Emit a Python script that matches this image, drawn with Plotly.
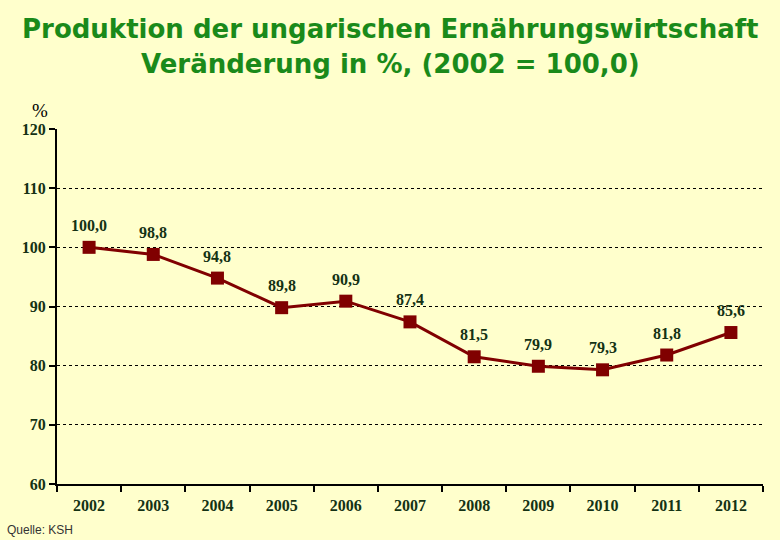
import plotly.graph_objects as go

years = ["2002", "2003", "2004", "2005", "2006", "2007", "2008", "2009", "2010", "2011", "2012"]
values = [100.0, 98.8, 94.8, 89.8, 90.9, 87.4, 81.5, 79.9, 79.3, 81.8, 85.6]
labels = ["100,0", "98,8", "94,8", "89,8", "90,9", "87,4", "81,5", "79,9", "79,3", "81,8", "85,6"]
y_ticks = [60, 70, 80, 90, 100, 110, 120]
title_lines = ["Produktion der ungarischen Ernährungswirtschaft", "Veränderung in %, (2002 = 100,0)"]

bg = "#FFFFCC"
tick_color = "#143214"
W, H = 780, 540
ML, MR, MT, MB = 57, 17, 129, 56
pw, ph = W - ML - MR, H - MT - MB

def px(x):
    return (x - ML) / pw

def py(y):
    return (H - MB - y) / ph

fig = go.Figure()
fig.add_trace(go.Scatter(
    x=years, y=values, mode="lines+markers",
    line=dict(color="#800000", width=3),
    marker=dict(symbol="square", size=13, color="#800000"),
    cliponaxis=False, showlegend=False,
))

annotations = []
for i, (v, lab) in enumerate(zip(values, labels)):
    annotations.append(dict(
        x=i, y=v, xref="x", yref="y", text=lab, showarrow=False,
        yshift=22, xanchor="center", yanchor="middle",
        font=dict(family="Liberation Serif", size=16, color=tick_color, weight="bold"),
    ))

title_y = [29, 64]
for line, ty in zip(title_lines, title_y):
    annotations.append(dict(
        text=line, x=px(390), y=py(ty), xref="paper", yref="paper", showarrow=False,
        xanchor="center", yanchor="middle",
        font=dict(family="DejaVu Sans", size=26, color="#1A8A1A", weight="bold"),
    ))

annotations.append(dict(text="%", x=px(40), y=py(110), xref="paper", yref="paper", showarrow=False,
                        xanchor="center", yanchor="middle",
                        font=dict(family="Liberation Serif", size=19, color="black")))
annotations.append(dict(text="Quelle: KSH", x=px(5), y=py(530), xref="paper", yref="paper", showarrow=False,
                        xanchor="left", yanchor="middle",
                        font=dict(family="Liberation Sans", size=12, color="#333333")))

fig.update_layout(
    width=W, height=H,
    paper_bgcolor=bg, plot_bgcolor=bg,
    margin=dict(l=ML, r=MR, t=MT, b=MB),
    xaxis=dict(
        type="category", range=[-0.5, 10.5],
        showline=True, linecolor="black", linewidth=2,
        ticks="outside", tickson="boundaries", ticklen=6, tickcolor="black", tickwidth=2,
        ticklabelstandoff=6,
        showgrid=False, zeroline=False,
        tickfont=dict(family="Liberation Serif", size=16, color=tick_color, weight="bold"),
    ),
    yaxis=dict(
        range=[60, 120], tickvals=y_ticks,
        showline=True, linecolor="black", linewidth=2,
        ticks="outside", ticklen=6, tickcolor="black", tickwidth=2,
        showgrid=True, gridcolor="black", gridwidth=1, griddash="dot",
        zeroline=False,
        tickfont=dict(family="Liberation Serif", size=16, color=tick_color, weight="bold"),
    ),
    annotations=annotations,
)

fig.write_html("out.html", config={"displayModeBar": False},
               post_script="document.body.style.margin='0';document.body.style.overflow='hidden';")
